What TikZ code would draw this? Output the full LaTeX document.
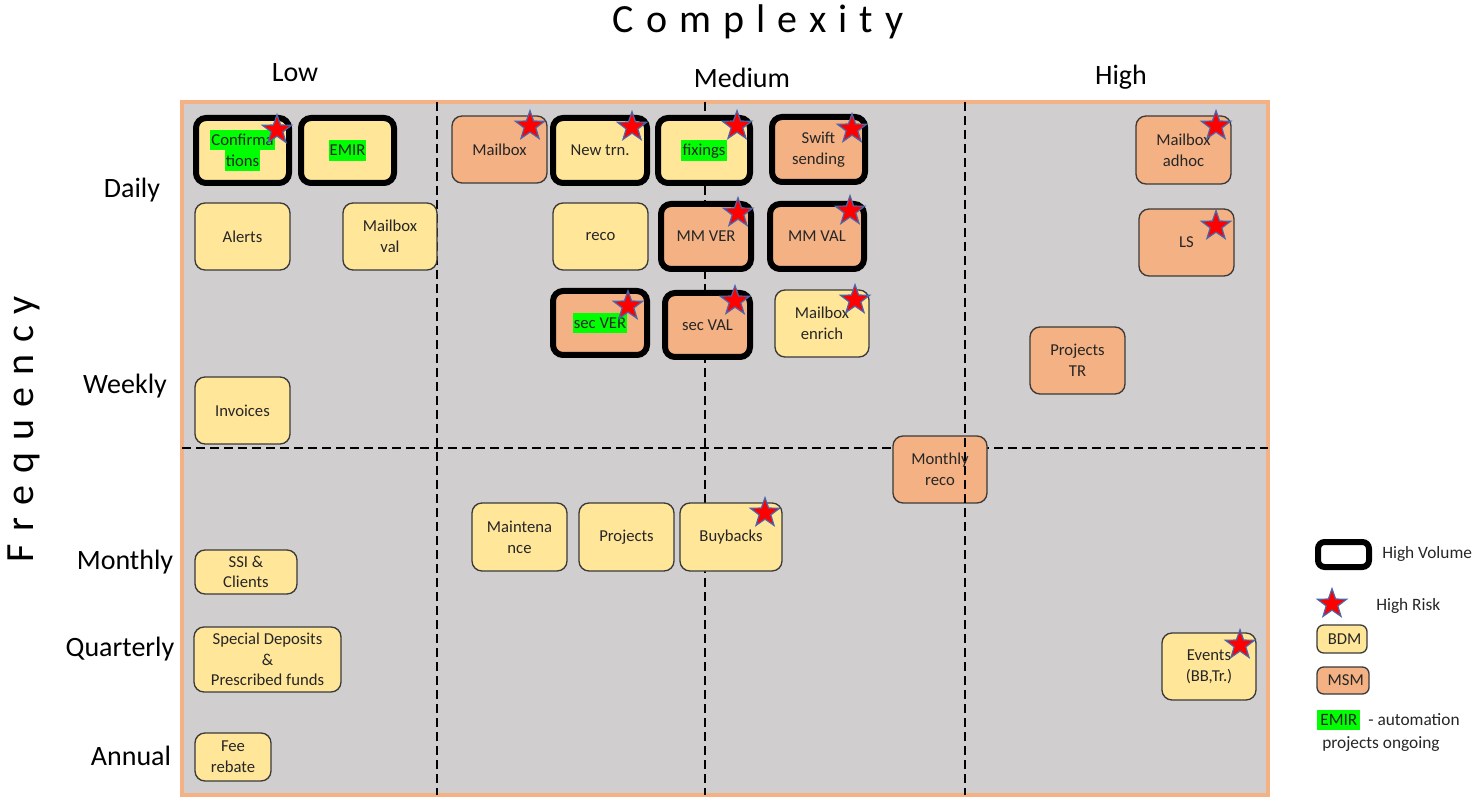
\documentclass[tikz,border=0pt]{standalone}
\usepackage{fontspec}
\setmainfont{Carlito}
\usetikzlibrary{shapes.geometric}
\definecolor{bdm}{HTML}{FFE699}
\definecolor{msm}{HTML}{F4B183}
\definecolor{framecol}{HTML}{F4B183}
\definecolor{bggray}{HTML}{D0CECE}
\definecolor{hlgreen}{HTML}{00FF00}
\definecolor{starblue}{HTML}{4A66AC}
\definecolor{edgecol}{HTML}{3A3A3A}
\definecolor{txt}{HTML}{262626}
\newcommand\hlg[1]{{\setlength{\fboxsep}{0pt}\colorbox{hlgreen}{\rule[-3.8pt]{0pt}{15.5pt}\kern0.8pt#1\kern0.8pt}}}
\newcommand\spc{\kern9pt}
\begin{document}
\begin{tikzpicture}[x=0.75pt,y=-0.75pt,
  box/.style 2 args={rounded corners=7.5pt, draw=edgecol, line width=1pt, inner sep=0pt, align=center, text=txt, font=\fontsize{12.5}{15.5}\selectfont, minimum width=#1*0.75pt, minimum height=#2*0.75pt},
  bdmbox/.style={fill=bdm},
  msmbox/.style={fill=msm},
  hv/.style={draw=black, line width=4.5pt},
  risk/.style={star, star points=5, star point ratio=2.5, fill=red, draw=starblue, line width=0.9pt, minimum size=23pt, inner sep=0pt},
  divider/.style={draw=black, line width=2.2pt, dash pattern=on 6.5pt off 4pt},
  axislab/.style={font=\fontsize{21}{24}\selectfont, text=black, inner sep=0pt},
  biglab/.style={font=\fontsize{30}{34}\selectfont, text=black, inner sep=0pt},
  legtext/.style={font=\fontsize{13}{15}\selectfont, text=txt, inner sep=0pt, anchor=west}
]
\useasboundingbox (0,0) rectangle (1478,798);
\fill[white] (0,0) rectangle (1478,798);

% frame
\filldraw[fill=bggray, draw=framecol, line width=3pt] (182,102) rectangle (1268,795);

% dividers behind boxes
\coordinate (hL) at (182,448);
\coordinate (hR) at (1268,448);
\coordinate (v1t) at (437,102);
\coordinate (v1b) at (437,795);
\coordinate (v2t) at (705,102);
\coordinate (v2b) at (705,795);
\coordinate (v3t) at (965,102);
\coordinate (v3b) at (965,795);
\draw[divider] (hL) -- (hR);
\draw[divider] (v1t) -- (v1b);
\draw[divider] (v2t) -- (v2b);

% titles
\node[biglab] (title) at (758,22) {C\spc o\spc m\spc p\spc l\spc e\spc x\spc i\spc t\spc y};
\node[biglab, rotate=90] (freq) at (24,429) {F\spc r\spc e\spc q\spc u\spc e\spc n\spc c\spc y};
\node[axislab] (low) at (295,73) {Low};
\node[axislab] (med) at (742,78) {Medium};
\node[axislab] (high) at (1121,77) {High};
\node[axislab] (daily) at (132,190) {Daily};
\node[axislab] (weekly) at (125,386) {Weekly};
\node[axislab] (monthly) at (125,562) {Monthly};
\node[axislab] (quarterly) at (120,649) {Quarterly};
\node[axislab] (annual) at (131,756) {Annual};

% boxes
\node[box={93}{65}, bdmbox, hv] (confirm) at (242.5,150.5) {\hlg{Confirma}\\\hlg{tions}};
\node[box={93}{65}, bdmbox, hv] (emir) at (347.5,150.5) {\hlg{EMIR}};
\node[box={95}{67}, msmbox] (mailbox) at (499.5,149.5) {Mailbox};
\node[box={94}{65}, bdmbox, hv] (newtrn) at (600,150.5) {New trn.};
\node[box={92}{65}, bdmbox, hv] (fixings) at (704,150.5) {\hlg{fixings}};
\node[box={93}{65}, msmbox, hv] (swift) at (818.5,149.5) {Swift\\sending};
\node[box={95}{67}, bdmbox] (alerts) at (242.5,236.5) {Alerts};
\node[box={94}{67}, bdmbox] (mbval) at (390,236.5) {Mailbox\\val};
\node[box={95}{67}, bdmbox] (reco) at (600.5,236.5) {reco};
\node[box={90}{65}, msmbox, hv] (mmver) at (706,236.5) {MM VER};
\node[box={94}{65}, msmbox, hv] (mmval) at (817,236.5) {MM VAL};
\node[box={94}{64}, msmbox, hv] (secver) at (600,323) {\hlg{sec VER}};
\node[box={85}{64}, msmbox, hv] (secval) at (707.5,325) {sec VAL};
\node[box={94}{67}, bdmbox] (mbenrich) at (822,323.5) {Mailbox\\enrich};
\node[box={95}{67}, bdmbox] (invoices) at (242.5,410.5) {Invoices};
\node[box={95}{68}, msmbox] (mbadhoc) at (1183.5,150) {Mailbox\\adhoc};
\node[box={95}{67}, msmbox] (ls) at (1186.5,242.5) {LS};
\node[box={95}{67}, msmbox] (projtr) at (1077.5,360.5) {Projects\\TR};
\node[box={94}{67}, msmbox] (monreco) at (940,469.5) {Monthly\\reco};
\node[box={95}{68}, bdmbox] (maint) at (519.5,537) {Maintena\\nce};
\node[box={95}{68}, bdmbox] (projects) at (626.5,537) {Projects};
\node[box={102}{68}, bdmbox] (buybacks) at (731,537) {Buybacks};
\node[box={102}{44}, bdmbox] (ssi) at (246,572) {SSI \&\\Clients};
\node[box={147}{65}, bdmbox] (special) at (267.5,659.5) {Special Deposits\\\&\\Prescribed funds};
\node[box={76}{48}, bdmbox] (fee) at (233,757) {Fee\\rebate};
\node[box={94}{67}, bdmbox] (events) at (1209,666.5) {Events\\(BB,Tr.)};

% divider over boxes
\draw[divider] (v3t) -- (v3b);

% risk stars
\node[risk] (r1) at (277,130) {};
\node[risk] (r2) at (530,126) {};
\node[risk] (r3) at (632,127) {};
\node[risk] (r4) at (737,126) {};
\node[risk] (r5) at (852,129) {};
\node[risk] (r6) at (738,213) {};
\node[risk] (r7) at (850,211) {};
\node[risk] (r8) at (628,306) {};
\node[risk] (r9) at (735,301) {};
\node[risk] (r10) at (855,300) {};
\node[risk] (r11) at (1216,126) {};
\node[risk] (r12) at (1216,226) {};
\node[risk] (r13) at (765,513) {};
\node[risk] (r14) at (1240,645) {};

% legend
\node[box={51}{25}, hv, fill=white, rounded corners=5pt] (lhv) at (1343.5,554.5) {};
\node[legtext] (lhvt) at (1382,554) {High Volume};
\node[risk] (lrisk) at (1332,604) {};
\node[legtext] (lriskt) at (1376,606) {High Risk};
\node[box={50}{28}, bdmbox, rounded corners=5pt] (lbdm) at (1342,639) {\kern4pt BDM};
\node[box={52}{27}, msmbox, rounded corners=5pt] (lmsm) at (1343,680.5) {\kern4pt MSM};
\node[legtext] (lemir) at (1317,720) {\hlg{\kern1.5pt EMIR\kern1.5pt}\ \ - automation};
\node[legtext] (lemir2) at (1322,744) {projects ongoing};
\end{tikzpicture}
\end{document}
